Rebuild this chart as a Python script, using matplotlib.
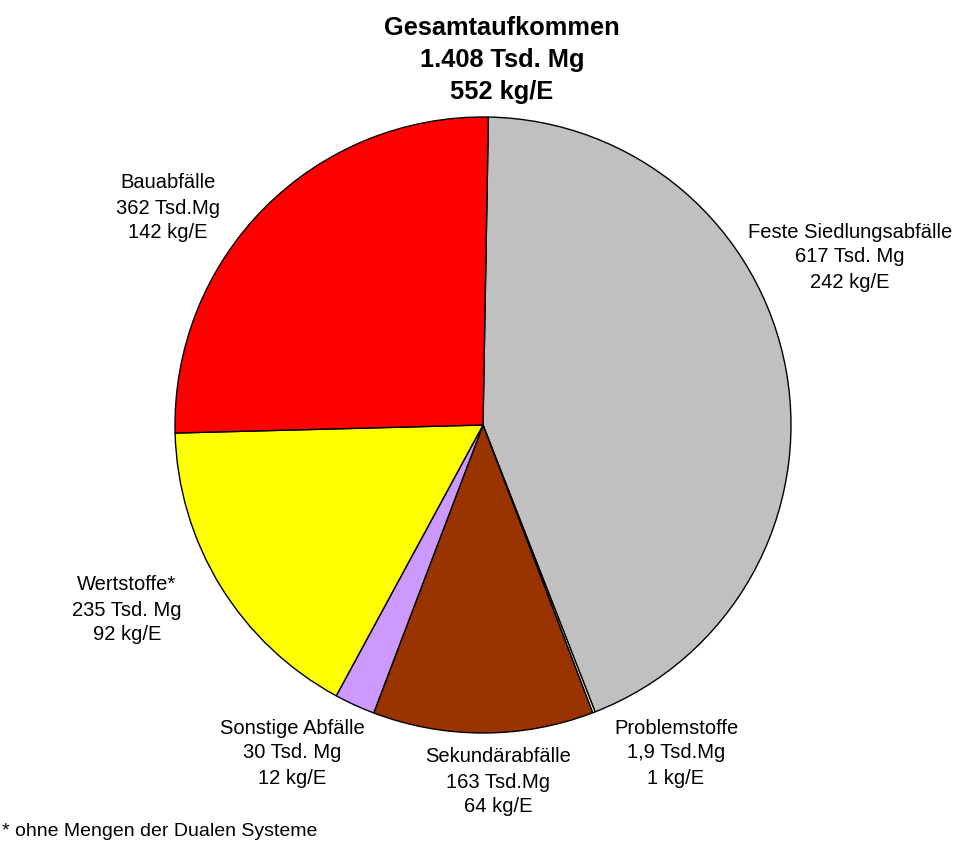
import matplotlib
matplotlib.use("Agg")
import matplotlib.pyplot as plt

plt.rcParams['font.family'] = ['Liberation Sans', 'DejaVu Sans']

categories = ["Feste Siedlungsabfälle", "Problemstoffe", "Sekundärabfälle",
              "Sonstige Abfälle", "Wertstoffe*", "Bauabfälle"]
mengen = [617, 1.9, 163, 30, 235, 362]          # Tsd. Mg
mengen_txt = ["617 Tsd. Mg", "1,9 Tsd.Mg", "163 Tsd.Mg", "30 Tsd. Mg", "235 Tsd. Mg", "362 Tsd.Mg"]
kg_pro_e = ["242 kg/E", "1 kg/E", "64 kg/E", "12 kg/E", "92 kg/E", "142 kg/E"]
colors = ["#C0C0C0", "#FFFFCC", "#993300", "#CC99FF", "#FFFF00", "#FF0000"]

title_lines = ["Gesamtaufkommen", "1.408 Tsd. Mg", "552 kg/E"]
footnote = "* ohne Mengen der Dualen Systeme"

W, H = 959, 843
fig = plt.figure(figsize=(W / 100, H / 100), dpi=100)
ax = fig.add_axes([0, 0, 1, 1])

ax.pie(mengen, colors=colors, startangle=89, counterclock=False,
       center=(483, H - 425), radius=308,
       wedgeprops=dict(edgecolor='black', linewidth=1.0))

ax.set_xlim(0, W)
ax.set_ylim(0, H)
ax.set_aspect('equal')
ax.axis('off')

# label positions (pixels from top-left)
label_pos = [(850, 257), (676, 753), (498, 782), (292, 753), (127, 610), (168, 208)]
for cat, m, k, (x, y) in zip(categories, mengen_txt, kg_pro_e, label_pos):
    ax.text(x, H - y, f"{cat}\n{m}\n{k}", ha='center', va='center',
            fontsize=14.5, linespacing=1.4)

ax.text(502, H - 60, "\n".join(title_lines), ha='center', va='center',
        fontsize=18.3, fontweight='bold', linespacing=1.4)

ax.text(2, H - 832, footnote, ha='left', va='center', fontsize=14)

fig.savefig("out.png", dpi=100)
